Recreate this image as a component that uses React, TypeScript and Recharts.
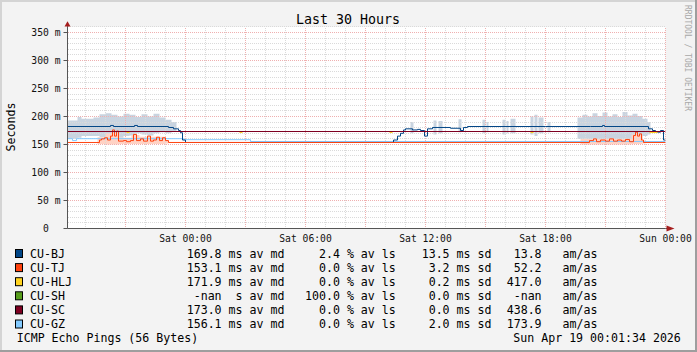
import React from 'react';
import {
  ComposedChart,
  Line,
  Area,
  XAxis,
  YAxis,
  ReferenceLine,
  ReferenceDot,
  CartesianGrid,
} from 'recharts';

const FONT = '"DejaVu Sans Mono", "Liberation Mono", monospace';
const W = 697;
const H = 352;

// time axis: hours relative to Sat 00:00
const X_MIN = -5.9;
const X_MAX = 24;
const Y_MIN = 0;
const Y_MAX = 360;

const titleText = 'Last 30 Hours';
const yAxisTitle = 'Seconds';
const watermark = 'RRDTOOL / TOBI OETIKER';
const footerLeft = 'ICMP Echo Pings (56 Bytes)';
const footerRight = 'Sun Apr 19 00:01:34 2026';

const yTicks = [0, 50, 100, 150, 200, 250, 300, 350];
const yTickLabels = ['0  ', '50 m', '100 m', '150 m', '200 m', '250 m', '300 m', '350 m'];
const yMinorGrid = [10, 20, 30, 40, 60, 70, 80, 90, 110, 120, 130, 140, 160, 170, 180, 190, 210, 220, 230, 240, 260, 270, 280, 290, 310, 320, 330, 340, 360];
const yMajorGrid = [50, 100, 150, 200, 250, 300, 350];

const xTicks = [-3, 0, 3, 6, 9, 12, 15, 18, 21, 24];
const xLabelTicks = [0, 6, 12, 18, 24];
const xTickLabels = ['Sat 00:00', 'Sat 06:00', 'Sat 12:00', 'Sat 18:00', 'Sun 00:00'];
const xMinorGrid = [-5, -4, -2, -1, 1, 2, 4, 5, 7, 8, 10, 11, 13, 14, 16, 17, 19, 20, 22, 23];
const xMajorGrid = [-3, 0, 3, 6, 9, 12, 15, 18, 21, 24];

// legend
const hostNames = ['CU-BJ', 'CU-TJ', 'CU-HLJ', 'CU-SH', 'CU-SC', 'CU-GZ'];
const hostColors = ['#004586', '#ff420e', '#ffd320', '#579d1c', '#7e0021', '#83caff'];
const avgLabels = ['169.8 ms', '153.1 ms', '171.9 ms', ' -nan  s', '173.0 ms', '156.1 ms'];
const lossLabels = ['2.4', '0.0', '0.0', '100.0', '0.0', '0.0'];
const sdLabels = ['13.5', '3.2', '0.2', '0.0', '0.0', '2.0'];
const amasLabels = ['13.8', '52.2', '417.0', '-nan', '438.6', '173.9'];

// series: [hour, ms] step points
const bjSteps = [
  [-5.9, 182.1], [-3.75, 184], [-3.6, 182.1], [-2.55, 184], [-2.4, 182.1], [-0.85, 180.4], [-0.6, 178],
  [-0.35, 175], [-0.25, 171], [-0.15, 158], [0, 153.6],
  [10.4, 158], [10.6, 165], [10.75, 170], [10.9, 176], [11.0, 178], [11.35, 176], [11.6, 177],
  [11.75, 175], [11.95, 165], [12.1, 178], [12.35, 180.4], [13.25, 179], [13.75, 175], [13.9, 180.4],
  [14.1, 182.1], [18.0, 182.1], [20.25, 182.1], [20.85, 184], [20.95, 182.1],
  [23.15, 178], [23.35, 175], [23.5, 172], [23.75, 175], [23.9, 158], [24, 158],
];
const tjSteps = [
  [-5.9, 153.6], [-4.3, 158], [-4.2, 160], [-4.05, 162], [-3.9, 158], [-3.75, 165], [-3.65, 176],
  [-3.55, 165], [-3.45, 174], [-3.35, 156], [-3.1, 157], [-2.95, 155], [-2.75, 157], [-2.6, 168],
  [-2.45, 157], [-2.25, 160], [-2.1, 156], [-1.9, 165], [-1.75, 156], [-1.6, 158], [-1.45, 163],
  [-1.3, 157], [-1.15, 162], [-1.0, 157], [-0.85, 153.6],
  [20.2, 157], [20.4, 160], [20.55, 155], [20.75, 158], [21.0, 156], [21.2, 160], [21.4, 156],
  [21.6, 158], [21.8, 156], [22.0, 159], [22.2, 155], [22.4, 166], [22.5, 172], [22.6, 165],
  [22.7, 169], [22.8, 158], [22.9, 153.6], [24, 153.6],
];
// visible HLJ pieces (elsewhere hidden under CU-SC): [start, end, ms]
const hljPieces = [
  [-2.95, -2.8, 171.4], [2.7, 2.85, 171.4], [10.2, 10.35, 171.4], [17.25, 17.4, 171.4], [23.2, 23.6, 171.4],
];
const scSteps = [[-5.9, 173.2], [24, 173.2]];
const gzSteps = [[-5.9, 160.4], [-5.65, 157], [-5.45, 160.4], [-0.1, 158.6], [3.25, 155.4], [24, 155.4]];

// smoke bands: [start hour, end hour, low ms, high ms]
const bjSmoke = [
  [-5.9, -5.4, 160, 193], [-5.4, -5.2, 162, 199], [-5.2, -4.6, 165, 196], [-4.6, -4.3, 165, 198],
  [-4.3, -4.0, 163, 204], [-4.0, -3.7, 160, 206], [-3.7, -3.4, 160, 203], [-3.4, -3.1, 162, 200],
  [-3.1, -2.8, 165, 205], [-2.8, -2.5, 166, 203], [-2.5, -2.2, 170, 199], [-2.2, -1.9, 168, 204],
  [-1.9, -1.6, 166, 200], [-1.6, -1.3, 170, 205], [-1.3, -1.0, 172, 198], [-1.0, -0.7, 170, 194],
  [-0.7, -0.45, 174, 190],
  [11.25, 11.4, 170, 190], [12.4, 12.55, 168, 193], [12.65, 12.85, 170, 192], [13.65, 13.8, 172, 195],
  [14.85, 15.0, 170, 194], [15.05, 15.15, 172, 190], [15.85, 16.0, 168, 194], [16.05, 16.15, 170, 192],
  [16.25, 16.5, 170, 196], [17.25, 17.4, 168, 200], [17.45, 17.6, 165, 203], [17.65, 17.9, 170, 198],
  [18.1, 18.25, 172, 190],
  [19.6, 19.85, 160, 198], [19.85, 20.1, 158, 203], [20.1, 20.35, 157, 200], [20.35, 20.6, 160, 206],
  [20.6, 20.85, 157, 201], [20.85, 21.1, 155, 207], [21.1, 21.35, 160, 200], [21.35, 21.6, 157, 204],
  [21.6, 21.85, 158, 199], [21.85, 22.1, 160, 208], [22.1, 22.35, 156, 202], [22.35, 22.6, 155, 205],
  [22.6, 22.85, 160, 201], [22.85, 23.1, 165, 196], [23.1, 23.25, 168, 190],
];
const tjSmoke = [
  [-4.4, -4.0, 151, 163], [-4.0, -3.3, 150, 170], [-3.3, -2.7, 151, 162], [-2.7, -2.3, 151, 167],
  [-2.3, -1.0, 151, 164], [-1.0, -0.85, 152, 158],
  [19.75, 22.3, 150, 160], [22.3, 22.85, 151, 168], [22.85, 23.0, 152, 157],
];

const toSteps = (pts: number[][]) => pts.map(([t, v]) => ({ t, v }));
const toPieces = (segs: number[][]) => {
  const out: { t: number; v: number | null }[] = [];
  segs.forEach(([a, b, v]) => {
    out.push({ t: a, v });
    out.push({ t: b, v });
    out.push({ t: b, v: null });
  });
  return out;
};
const toBands = (segs: number[][]) => {
  const out: { t: number; r: number[] | null }[] = [];
  segs.forEach(([a, b, lo, hi], i) => {
    out.push({ t: a, r: [lo, hi] });
    out.push({ t: b, r: [lo, hi] });
    const next = segs[i + 1];
    if (!next || next[0] !== b) out.push({ t: b, r: null });
  });
  return out;
};

const YTick = (props: any) => {
  const { x, y, payload } = props;
  const idx = yTicks.indexOf(payload.value);
  return (
    <text x={x} y={y} dy={3.5} textAnchor="end" fontFamily={FONT} fontSize={9.7} fill="#111" xmlSpace="preserve" style={{ whiteSpace: 'pre' }}>
      {idx >= 0 ? yTickLabels[idx] : ''}
    </text>
  );
};

const XTick = (props: any) => {
  const { x, y, payload } = props;
  const idx = xLabelTicks.indexOf(payload.value);
  if (idx < 0) return <g />;
  return (
    <text x={x} y={y} dy={13} textAnchor="middle" fontFamily={FONT} fontSize={9.7} fill="#111">
      {xTickLabels[idx]}
    </text>
  );
};

const upArrow = (p: any) => (
  <g>
    <line x1={p.cx} y1={p.cy} x2={p.cx} y2={p.cy - 4} stroke="#555" strokeWidth={1} />
    <path d={`M${p.cx} ${p.cy - 5.6} L${p.cx - 3} ${p.cy - 0.4} L${p.cx + 3} ${p.cy - 0.4} Z`} fill="#a51d1d" />
  </g>
);
const rightArrow = (p: any) => (
  <g>
    <line x1={p.cx} y1={p.cy} x2={p.cx + 5} y2={p.cy} stroke="#555" strokeWidth={1} />
    <path d={`M${p.cx + 9} ${p.cy} L${p.cx + 1} ${p.cy - 3} L${p.cx + 1} ${p.cy + 3} Z`} fill="#a51d1d" />
  </g>
);

const MINOR = '#dadada';
const MAJOR = '#efb0b0';

const PreText = (props: any) => (
  <text {...props} xmlSpace="preserve" style={{ whiteSpace: 'pre' }} />
);

export default function App() {
  const rowBase = (i: number) => 257.7 + 14.1 * i;
  return (
    <div style={{ position: 'absolute', left: 0, top: 0, width: W, height: H, background: '#f3f3f3', overflow: 'hidden' }}>
      <div style={{ position: 'absolute', left: 0, top: 0 }}>
        <ComposedChart width={W} height={H} margin={{ top: 26.9, right: 31.5, bottom: 103.5, left: 7.5 }}>
          <CartesianGrid fill="#ffffff" horizontal={false} vertical={false} />
          <XAxis
            type="number"
            dataKey="t"
            domain={[X_MIN, X_MAX]}
            ticks={xTicks}
            interval={0}
            allowDataOverflow
            height={20}
            tickSize={0}
            tickMargin={0}
            tickLine={false}
            axisLine={{ stroke: '#555' }}
            tick={<XTick />}
          />
          <YAxis
            type="number"
            domain={[Y_MIN, Y_MAX]}
            ticks={yTicks}
            interval={0}
            allowDataOverflow
            width={60}
            tickSize={4}
            tickMargin={3}
            tickLine={{ stroke: '#555' }}
            axisLine={{ stroke: '#555' }}
            tick={<YTick />}
          />
          <Area data={toBands(bjSmoke)} dataKey="r" type="stepAfter" stroke="none" fill="#c9d4e0" fillOpacity={1} isAnimationActive={false} connectNulls={false} />
          <Area data={toBands(tjSmoke)} dataKey="r" type="stepAfter" stroke="none" fill="#ffd2c4" fillOpacity={1} isAnimationActive={false} connectNulls={false} />
          {yMinorGrid.map((v) => (
            <ReferenceLine key={`ym${v}`} y={v} stroke={MINOR} strokeDasharray="1 1" shapeRendering="crispEdges" />
          ))}
          {xMinorGrid.map((v) => (
            <ReferenceLine key={`xm${v}`} x={v} stroke={MINOR} strokeDasharray="1 1" shapeRendering="crispEdges" />
          ))}
          {yMajorGrid.map((v) => (
            <ReferenceLine key={`yM${v}`} y={v} stroke={MAJOR} strokeDasharray="1 1" shapeRendering="crispEdges" />
          ))}
          {xMajorGrid.map((v) => (
            <ReferenceLine key={`xM${v}`} x={v} stroke={MAJOR} strokeDasharray="1 1" shapeRendering="crispEdges" />
          ))}
          <Line data={toSteps(gzSteps)} dataKey="v" type="stepAfter" stroke={hostColors[5]} strokeWidth={1} dot={false} isAnimationActive={false} />
          <Line data={toSteps(bjSteps)} dataKey="v" type="stepAfter" stroke={hostColors[0]} strokeWidth={1} dot={false} isAnimationActive={false} />
          <Line data={toSteps(tjSteps)} dataKey="v" type="stepAfter" stroke={hostColors[1]} strokeWidth={1} dot={false} isAnimationActive={false} />
          <Line data={toPieces(hljPieces)} dataKey="v" type="stepAfter" stroke={hostColors[2]} strokeWidth={1} dot={false} isAnimationActive={false} connectNulls={false} />
          <Line data={toSteps(scSteps)} dataKey="v" type="stepAfter" stroke={hostColors[4]} strokeWidth={1} dot={false} isAnimationActive={false} />
          <ReferenceDot x={X_MIN} y={Y_MAX} r={0} ifOverflow="visible" shape={upArrow} />
          <ReferenceDot x={X_MAX} y={Y_MIN} r={0} ifOverflow="visible" shape={rightArrow} />
        </ComposedChart>
      </div>
      <svg width={W} height={H} style={{ position: 'absolute', left: 0, top: 0 }}>
        <text x={348} y={24} textAnchor="middle" fontFamily={FONT} fontSize={13.3} fill="#000">{titleText}</text>
        <text transform="translate(15,127) rotate(-90)" textAnchor="middle" fontFamily={FONT} fontSize={11.6} fill="#000">{yAxisTitle}</text>
        <text transform="translate(685,5) rotate(90)" fontFamily={FONT} fontSize={8} fill="#a8a8a8">{watermark}</text>
        {hostNames.map((n, i) => (
          <g key={n} fontFamily={FONT} fontSize={11.6} fill="#000">
            <rect x={15.5} y={rowBase(i) - 8.2} width={7} height={8} fill={hostColors[i]} stroke="#000" strokeWidth={1} />
            <PreText x={30} y={rowBase(i)}>{n}</PreText>
            <PreText x={186.7} y={rowBase(i)}>{`${avgLabels[i]} av md`}</PreText>
            <PreText x={305} y={rowBase(i)}>{`${lossLabels[i].padStart(5, ' ')} % av ls`}</PreText>
            <PreText x={414.7} y={rowBase(i)}>{`${sdLabels[i].padStart(5, ' ')} ms sd`}</PreText>
            <PreText x={506.7} y={rowBase(i)}>{`${amasLabels[i].padStart(5, ' ')}   am/as`}</PreText>
          </g>
        ))}
        <PreText x={16.7} y={rowBase(6)} fontFamily={FONT} fontSize={11.6} fill="#000">{footerLeft}</PreText>
        <PreText x={513.3} y={rowBase(6)} fontFamily={FONT} fontSize={11.6} fill="#000">{footerRight}</PreText>
      </svg>
      <div style={{ position: 'absolute', left: 0, top: 0, width: W, height: 2, background: '#d4d4d4' }} />
      <div style={{ position: 'absolute', left: 0, top: 0, width: 2, height: H, background: '#d4d4d4' }} />
      <div style={{ position: 'absolute', right: 0, top: 0, width: 2, height: H, background: '#9e9e9e' }} />
      <div style={{ position: 'absolute', left: 0, bottom: 0, width: W, height: 2, background: '#9e9e9e' }} />
    </div>
  );
}
